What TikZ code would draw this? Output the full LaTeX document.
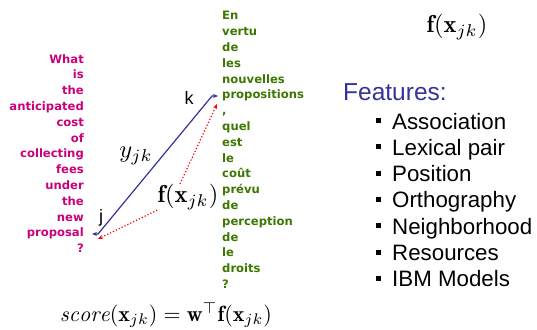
\documentclass[tikz,border=0pt]{standalone}
\usepackage{amsmath}
\usepackage{fontspec}
\usetikzlibrary{arrows.meta,positioning,calc}
\newfontfamily\srcfont{DejaVu Sans}
\newfontfamily\featfont{Liberation Sans}
\definecolor{srcmag}{RGB}{204,0,119}
\definecolor{tgtgreen}{RGB}{60,120,0}
\definecolor{linkblue}{RGB}{51,51,153}

\begin{document}
\begin{tikzpicture}[
  x=1pt,
  y=-1pt,
  sent/.style={inner sep=0pt, font=\srcfont\bfseries\fontsize{11.6}{15.8}\selectfont},
  link/.style={{Stealth[length=5pt,width=4pt]}-{Stealth[length=5pt,width=4pt]}, linkblue, line width=1.2pt},
  featlink/.style={-{Stealth[length=5pt,width=4pt]}, red, dotted, line width=1.2pt},
  mathlbl/.style={inner sep=0pt, scale=2.45},
  wordlbl/.style={inner sep=0pt, font=\featfont\fontsize{18}{22}\selectfont},
  item/.style={anchor=base west, inner sep=0pt, font=\featfont\fontsize{22.3}{26}\selectfont},
  bulletsq/.style={fill=black, minimum size=5pt, inner sep=0pt}
]
  \useasboundingbox (0,0) rectangle (537,329);
  % source and target sentences, one word per line
  \node[sent, srcmag, align=right, anchor=east] (src) at (84,153.5)
    {What\\is\\the\\anticipated\\cost\\of\\collecting\\fees\\under\\the\\new\\proposal\\?};
  \node[sent, tgtgreen, align=left, anchor=west] (tgt) at (222,150)
    {En\\vertu\\de\\les\\nouvelles\\propositions\\,\\quel\\est\\le\\co\^ut\\pr\'evu\\de\\perception\\de\\le\\droits\\?};
  % end points of the link j -- k
  \coordinate (jpt) at (92,234);
  \coordinate (kpt) at (218,96);
  \node[wordlbl] (jlbl) at (101,218) {j};
  \node[wordlbl] (klbl) at (189,98) {k};
  \draw[link] (jpt) -- ++(6,0) -- ($(kpt)+(-6,0)$) -- (kpt);
  \node[mathlbl] (ylbl) at (136,156) {$y_{jk}$};
  % feature vector of the link
  \node[mathlbl] (fx) at (188,197) {$\mathbf{f}(\mathbf{x}_{jk})$};
  \draw[featlink] (fx.south west) -- ($(jpt)+(6,5)$);
  \draw[featlink] ([xshift=-8pt]fx.north) -- ($(kpt)+(-1,8)$);
  % feature list
  \node[mathlbl] (fxtop) at (457,27) {$\mathbf{f}(\mathbf{x}_{jk})$};
  \node[anchor=base west, inner sep=0pt, linkblue, font=\featfont\fontsize{24.5}{28}\selectfont] (feat) at (343,100) {Features:};
  \foreach \name [count=\i from 0] in {Association, Lexical pair, Position, Orthography, Neighborhood, Resources, IBM Models} {
    \node[item] (item\i) at (392,{129+26.3*\i}) {\name};
    \node[bulletsq] (bul\i) at (378,{120.5+26.3*\i}) {};
  }
  % scoring function
  \node[inner sep=0pt, scale=2.2] (score) at (166,315)
    {$\mathit{score}(\mathbf{x}_{jk}) = \mathbf{w}^{\top}\mathbf{f}(\mathbf{x}_{jk})$};
\end{tikzpicture}
\end{document}
